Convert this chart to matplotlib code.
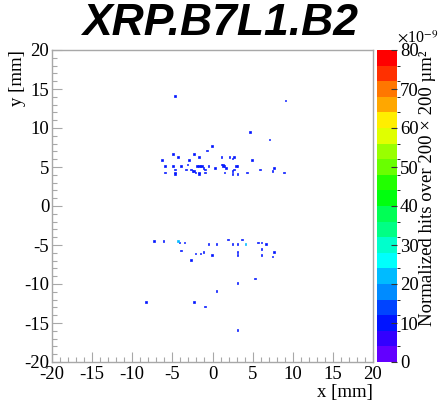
import colorsys
import numpy as np
import matplotlib
matplotlib.use("Agg")
import matplotlib.pyplot as plt
from matplotlib.colors import ListedColormap, BoundaryNorm
from matplotlib.ticker import MultipleLocator

# Hit positions [mm] and normalized weights (units of 1e-9 per 200x200 um^2 cell)
hit_x = [
    -4.76, 9.03, 4.80, 7.20, -0.19, -0.60,
    -4.96, -4.20, -2.30, -3.00, -1.72, 1.06, 2.18, 2.47, 2.68, 4.88, -6.33,
    -6.00, -4.88, -4.76, -3.93, -3.34, -3.10,
    -2.68, -2.52, -2.30, -2.18,
    -1.93, -1.77, -1.56, -1.35, -1.10, -0.81,
    -1.77, -1.77,
    -0.40, -0.81, 0.40,
    1.06, 1.27, 1.40, 1.56, 1.68, 1.47,
    2.59, 2.80, 2.97, 3.14, 2.59, 3.00,
    4.38, 5.83, 7.58, 7.79, 8.83,
    -4.76, -4.76, -6.00,
    -7.38, -6.17, -4.38, -4.20, -4.14, -3.59, -3.97, -2.60, -2.14, -1.40,
    -1.18, -0.19, -0.40, 0.44, 1.97, 2.59, 3.00, 3.80, 4.05, 3.00, 3.20,
    5.80, 6.20, 6.63, 6.00, 6.00, 7.79, 7.41,
    5.40, 3.20, 0.44, -8.30, -2.20, -1.00, 3.00,
]
hit_y = [
    14.10, 13.46, 9.50, 8.46, 7.73, 7.10,
    6.67, 6.28, 6.70, 5.86, 6.28, 6.28, 6.28, 6.06, 6.28, 5.86, 5.86,
    5.13, 5.13, 4.74, 5.13, 4.70, 5.26,
    4.78, 4.60, 4.45, 4.27,
    5.04, 5.17, 5.04, 5.00, 4.87, 4.70,
    4.35, 4.15,
    5.13, 4.27, 4.87,
    5.30, 5.22, 5.04, 5.04, 4.87, 4.36,
    4.53, 4.78, 5.04, 5.17, 4.19, 4.19,
    4.27, 4.70, 4.53, 4.91, 4.27,
    4.35, 4.15, 4.27,
    -4.57, -4.57, -4.50, -4.50, -4.62, -4.74, -5.77, -6.92, -6.15, -6.15,
    -5.94, -6.32, -4.96, -4.96, -4.30, -4.96, -4.96, -4.30, -4.96, -5.94, -6.32,
    -4.74, -4.74, -4.96, -5.55, -6.32, -5.94, -6.54,
    -9.30, -9.90, -10.80, -12.30, -12.30, -12.90, -15.90,
]
hit_w = [10.0] * len(hit_x)
hit_w[hit_x.index(4.05)] = 20.0

x_range = (-20, 20)
y_range = (-20, 20)
n_bins = 200
z_max = 80
n_levels = 20
axis_ticks = list(range(-20, 21, 5))
cbar_ticks = list(range(0, 81, 10))

# 2D histogram of the hits
edges_x = np.linspace(*x_range, n_bins + 1)
edges_y = np.linspace(*y_range, n_bins + 1)
H, _, _ = np.histogram2d(hit_x, hit_y, bins=[edges_x, edges_y], weights=hit_w)
H = np.ma.masked_equal(H.T, 0)

# Rainbow palette (violet -> red), 20 contour levels
palette = []
for k in range(n_levels):
    idx = int((k + 0.99) * 50 / n_levels)
    if idx >= 49:
        palette.append((1.0, 0.0, 0.0))
    else:
        hue = 280 - (idx + 1) * 5.6
        palette.append(colorsys.hls_to_rgb(hue / 360.0, 0.5, 1.0))
cmap = ListedColormap(palette)
bounds = np.linspace(0, z_max, n_levels + 1)
norm = BoundaryNorm(bounds, cmap.N)

plt.rcParams["font.family"] = ["Liberation Serif", "DejaVu Serif"]
plt.rcParams["mathtext.fontset"] = "stix"
plt.rcParams["axes.unicode_minus"] = False

W, Hpx = 438, 403
fig = plt.figure(figsize=(W / 100, Hpx / 100), dpi=100)

frame_l, frame_r, frame_t, frame_b = 52, 373, 50, 362
ax = fig.add_axes([frame_l / W, 1 - frame_b / Hpx,
                   (frame_r - frame_l) / W, (frame_b - frame_t) / Hpx])
mesh = ax.pcolormesh(edges_x, edges_y, H, cmap=cmap, norm=norm,
                     edgecolors="face", linewidth=0.45, antialiased=True)
ax.set_xlim(*x_range)
ax.set_ylim(*y_range)

frame_col = "#a8a8a8"
for s in ax.spines.values():
    s.set_color(frame_col)
    s.set_linewidth(1.0)
tick_labels = [str(t) for t in axis_ticks]
ax.set_xticks(axis_ticks, labels=tick_labels, fontfamily="Liberation Serif")
ax.set_yticks(axis_ticks, labels=tick_labels, fontfamily="Liberation Serif")
ax.xaxis.set_minor_locator(MultipleLocator(1))
ax.yaxis.set_minor_locator(MultipleLocator(1))
ax.tick_params(which="both", direction="in", top=False, right=False,
               color=frame_col, width=0.8, labelsize=13.5)
ax.tick_params(which="major", length=7)
ax.tick_params(which="minor", length=3.5)
ax.tick_params(axis="x", which="major", pad=3)
ax.tick_params(axis="y", which="major", pad=2)

# Colour scale
cax = fig.add_axes([377 / W, 1 - frame_b / Hpx, 20 / W, (frame_b - frame_t) / Hpx])
cb = fig.colorbar(mesh, cax=cax, ticks=cbar_ticks)
cb.outline.set_visible(False)
cax.tick_params(direction="in", length=4, width=0.8, color="#333333",
                labelsize=13.5, pad=2)
cax.set_yticklabels([str(t) for t in cbar_ticks], fontfamily="Liberation Serif")

# Texts
fig.text(220 / W, 1 - 3 / Hpx, "XRP.B7L1.B2", ha="center", va="top",
         fontsize=32, fontweight="bold", fontstyle="italic",
         family=["Liberation Sans", "DejaVu Sans"])
fig.text(frame_r / W, 1 - 393 / Hpx, "x [mm]", ha="right", va="center",
         fontsize=13.5)
fig.text(18 / W, 1 - frame_t / Hpx, "y [mm]", ha="center", va="top",
         rotation=90, fontsize=13.5)
fig.text(428 / W, 1 - frame_t / Hpx, "Normalized hits over 200 × 200 µm²",
         ha="center", va="top", rotation=90, fontsize=13.5)
fig.text(397 / W, 1 - 43 / Hpx, r"$\times$10$^{-9}$", ha="left", va="baseline",
         fontsize=11.5)

fig.savefig("out.png", dpi=100)
